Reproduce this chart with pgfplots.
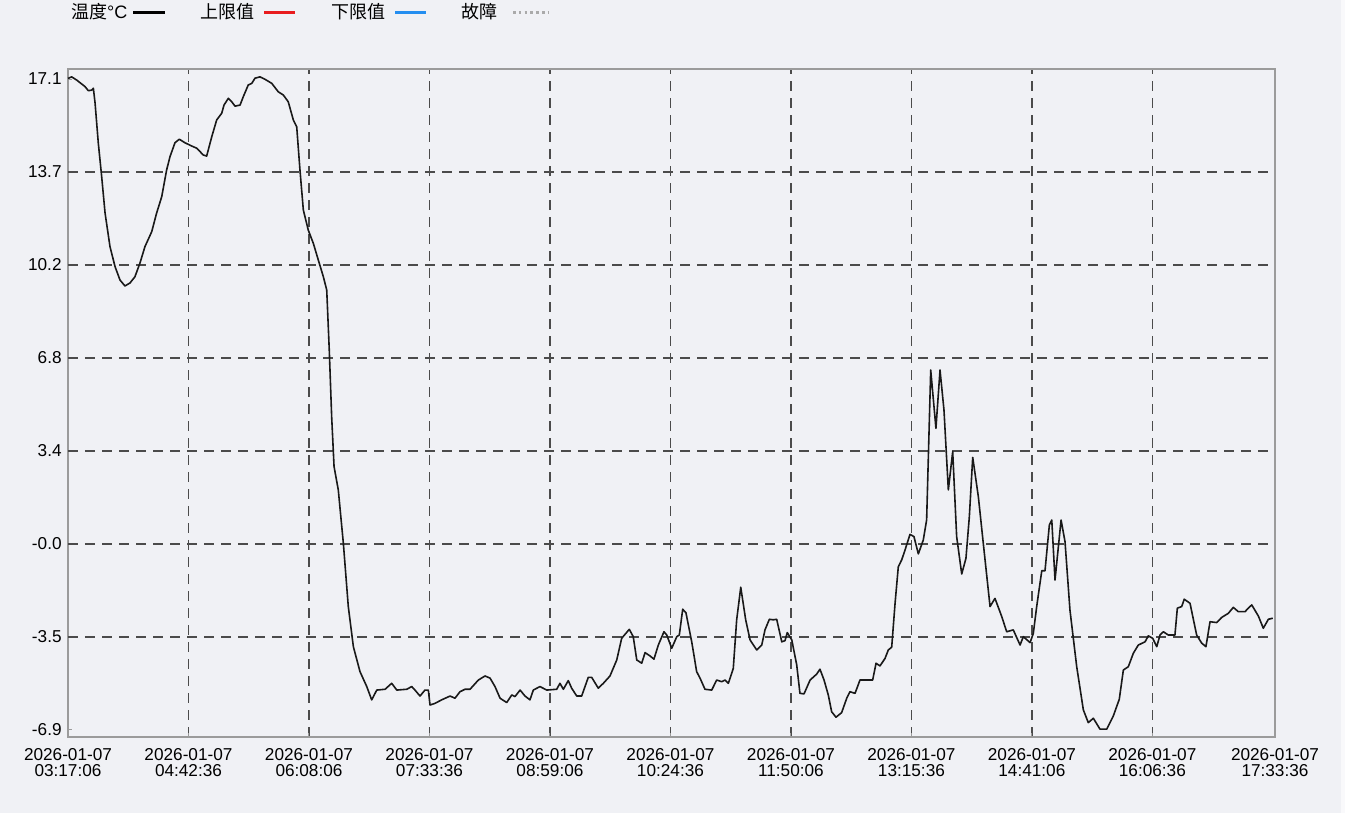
\documentclass[border=0pt]{standalone}
\usepackage{fontspec}
\setmainfont{Liberation Sans}
\newfontfamily\cjk{Noto Sans CJK SC}
\usepackage{pgfplots}
\usepackage{pgfplotstable}
\pgfplotsset{compat=1.18}
\definecolor{bgc}{RGB}{240,241,245}
\definecolor{framec}{RGB}{155,155,155}
\definecolor{gridc}{RGB}{75,75,75}
\definecolor{curvec}{RGB}{25,25,25}
\definecolor{upc}{RGB}{232,28,30}
\definecolor{lowc}{RGB}{36,142,240}
\definecolor{faultc}{RGB}{170,170,170}
\pgfplotstableread{
t temp
0 17.12
2.6 17.18
6.2 17.06
12.1 16.82
14.4 16.67
16.8 16.69
18.0 16.76
19.2 16.22
21.5 14.74
23.9 13.50
26.3 12.16
29.8 10.92
33.4 10.18
36.9 9.69
40.4 9.47
44.0 9.58
47.5 9.81
51.1 10.32
54.6 10.92
59.4 11.47
62.9 12.16
66.5 12.76
70.0 13.75
72.4 14.24
75.9 14.75
79.0 14.88
83.0 14.75
87.8 14.63
91.3 14.55
96.0 14.30
98.4 14.26
102.0 14.97
105.5 15.59
109.1 15.84
110.7 16.14
113.8 16.39
116.2 16.26
118.5 16.10
122.1 16.14
124.4 16.45
127.9 16.88
130.4 16.94
132.7 17.13
136.2 17.18
139.8 17.09
144.6 16.94
149.2 16.63
152.8 16.51
156.3 16.26
159.9 15.59
162.3 15.34
164.6 13.75
167.0 12.27
170.5 11.53
174.1 11.04
177.6 10.43
181.2 9.81
183.6 9.32
185.4 7.11
187.1 4.65
188.8 2.81
191.8 1.95
195.4 -0.02
198.9 -2.35
202.5 -3.83
207.2 -4.75
212.0 -5.30
215.5 -5.79
219.1 -5.43
225.0 -5.40
229.7 -5.18
233.3 -5.43
240.4 -5.40
243.9 -5.30
246.2 -5.43
249.8 -5.65
253.3 -5.43
255.7 -5.43
256.9 -5.98
260.4 -5.92
265.2 -5.79
271.1 -5.65
274.6 -5.73
278.2 -5.49
281.7 -5.40
285.3 -5.40
291.2 -5.06
295.9 -4.91
299.5 -4.99
303.0 -5.30
306.6 -5.73
311.3 -5.89
314.9 -5.61
317.2 -5.67
320.8 -5.43
324.3 -5.65
327.8 -5.79
330.2 -5.43
334.9 -5.30
339.7 -5.43
346.8 -5.40
349.1 -5.18
351.5 -5.40
355.0 -5.08
357.4 -5.36
361.0 -5.65
364.5 -5.65
369.2 -4.96
371.6 -4.96
376.3 -5.36
379.9 -5.18
384.6 -4.91
389.4 -4.32
392.9 -3.52
398.3 -3.19
401.1 -3.46
403.6 -4.32
407.1 -4.44
409.5 -4.05
413.0 -4.17
415.8 -4.29
418.9 -3.77
422.9 -3.28
424.9 -3.40
428.4 -3.89
432.0 -3.46
433.8 -3.40
436.2 -2.45
438.5 -2.58
442.6 -3.65
446.1 -4.75
448.5 -4.99
452.0 -5.40
456.8 -5.43
460.3 -5.06
463.9 -5.12
466.2 -5.06
468.6 -5.18
472.1 -4.63
474.5 -2.84
477.4 -1.64
480.9 -2.84
484.0 -3.58
488.7 -3.95
492.3 -3.77
494.6 -3.21
497.7 -2.82
500.5 -2.84
502.9 -2.82
506.5 -3.65
508.8 -3.61
510.4 -3.31
513.6 -3.58
517.1 -4.50
519.4 -5.55
522.3 -5.57
526.6 -5.06
531.3 -4.84
533.6 -4.66
536.5 -5.06
539.5 -5.61
541.9 -6.23
545.0 -6.43
549.0 -6.26
552.6 -5.73
554.9 -5.49
558.5 -5.55
562.0 -5.06
566.8 -5.06
571.0 -5.06
573.4 -4.44
576.2 -4.54
579.8 -4.26
582.1 -3.95
584.5 -3.85
586.9 -2.23
589.2 -0.88
591.6 -0.63
594.0 -0.26
597.5 0.31
600.3 0.23
603.4 -0.41
606.9 0.10
609.3 0.84
612.2 6.37
615.9 4.22
618.8 6.37
621.6 4.90
624.7 1.95
627.8 3.36
630.6 0.23
634.2 -1.15
637.2 -0.57
639.6 0.96
642.0 3.15
646.0 1.70
649.5 -0.02
654.3 -2.35
657.8 -2.05
662.6 -2.72
666.1 -3.28
670.8 -3.21
675.6 -3.77
677.9 -3.46
682.7 -3.68
685.0 -3.34
687.4 -2.35
691.0 -1.03
693.3 -1.03
696.4 0.66
698.1 0.84
700.4 -1.37
704.7 0.84
707.5 0.04
711.0 -2.48
715.8 -4.57
720.5 -6.16
724.0 -6.63
727.6 -6.47
732.3 -6.87
737.1 -6.87
741.8 -6.38
746.0 -5.77
748.9 -4.69
752.4 -4.57
756.0 -4.07
759.5 -3.77
764.3 -3.65
766.6 -3.43
769.7 -3.52
772.6 -3.83
774.9 -3.40
777.3 -3.28
780.8 -3.40
785.5 -3.40
787.2 -2.41
790.3 -2.35
792.1 -2.08
796.2 -2.23
800.9 -3.40
804.5 -3.70
807.5 -3.83
810.4 -2.91
815.1 -2.94
818.7 -2.75
823.4 -2.60
826.9 -2.38
830.5 -2.54
835.2 -2.54
837.6 -2.41
840.0 -2.29
844.7 -2.70
848.2 -3.15
851.8 -2.82
854.9 -2.78
}\tempdata
\begin{document}
\begin{tikzpicture}
\fill[bgc] (0,0) rectangle (672.5pt,406.5pt);
\fill[white!60!bgc] (670.5pt,0) rectangle (672.5pt,406.5pt);
\begin{axis}[
  at={(34pt,38pt)}, anchor=south west,
  scale only axis, width=603.5pt, height=334pt,
  xmin=0, xmax=856.5, ymin=-7.16, ymax=17.47,
  axis line style={framec, line width=0.75pt},
  axis background/.style={fill=bgc},
  xtick={0,85.5,171,256.5,342,427.5,513,598.5,684,769.5,856.5},
  xticklabels={
    2026-01-07\\03:17:06, 2026-01-07\\04:42:36, 2026-01-07\\06:08:06,
    2026-01-07\\07:33:36, 2026-01-07\\08:59:06, 2026-01-07\\10:24:36,
    2026-01-07\\11:50:06, 2026-01-07\\13:15:36, 2026-01-07\\14:41:06,
    2026-01-07\\16:06:36, 2026-01-07\\17:33:36},
  xticklabel style={align=center, inner sep=0pt, yshift=-5.5pt, font=\fontsize{8.6}{8}\selectfont},
  ytick={-6.9,-3.4714,-0.0429,3.3857,6.8143,10.2429,13.6714,17.1},
  yticklabels={-6.9,-3.5,-0.0,3.4,6.8,10.2,13.7,17.1},
  yticklabel style={inner sep=0pt, xshift=-3pt, font=\fontsize{8.6}{9}\selectfont},
  xtick pos=bottom, ytick pos=left,
  tick align=inside, major tick length=2pt,
  tick style={framec, line width=0.5pt},
  xmajorgrids=true,
  extra y ticks={-3.4714,-0.0429,3.3857,6.8143,10.2429,13.6714},
  extra y tick labels={},
  extra y tick style={grid=major, major tick length=0pt},
  grid style={gridc, line width=0.6pt, dash pattern=on 5pt off 3.5pt},
  clip=false,
]
\addplot[curvec, line width=0.8pt, line join=round] table[x=t, y=temp] {\tempdata};
\end{axis}
% legend
\begin{scope}[font=\fontsize{9}{10}\selectfont]
\node[anchor=base west, inner sep=0pt] at (35.4pt,397pt) {{\cjk 温度}°C};
\draw[black, line width=1.2pt] (66.5pt,400.2pt) -- (82.3pt,400.2pt);
\node[anchor=base west, inner sep=0pt] at (100pt,397pt) {\cjk 上限值};
\draw[upc, line width=1.2pt] (132pt,400.2pt) -- (147.4pt,400.2pt);
\node[anchor=base west, inner sep=0pt] at (165.5pt,397pt) {\cjk 下限值};
\draw[lowc, line width=1.2pt] (197.5pt,400.2pt) -- (212.8pt,400.2pt);
\node[anchor=base west, inner sep=0pt] at (230.5pt,397pt) {\cjk 故障};
\draw[faultc, line width=1.3pt, dash pattern=on 1.3pt off 1.6pt] (256.5pt,400.2pt) -- (274pt,400.2pt);
\end{scope}
\pgfresetboundingbox
\useasboundingbox (0,0) rectangle (672.5pt,406.5pt);
\end{tikzpicture}
\end{document}
